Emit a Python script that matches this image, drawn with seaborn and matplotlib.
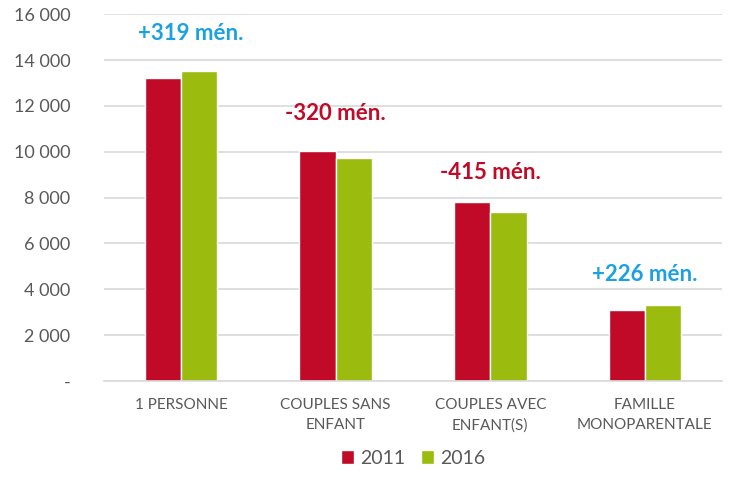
import pandas as pd
import seaborn as sns
import matplotlib.pyplot as plt

# Menages par type - 2011 vs 2016
categories = ['1 PERSONNE', 'COUPLES SANS\nENFANT', 'COUPLES AVEC\nENFANT(S)', 'FAMILLE\nMONOPARENTALE']
values_2011 = [13200, 10050, 7800, 3080]
values_2016 = [13519, 9730, 7385, 3306]
diff_labels = ['+319 mén.', '-320 mén.', '-415 mén.', '+226 mén.']
label_y = [15150, 11650, 9100, 4650]
years = ['2011', '2016']

df = pd.DataFrame({
    'type': categories * 2,
    'year': [years[0]] * 4 + [years[1]] * 4,
    'value': values_2011 + values_2016,
})

sns.set_style('white')
plt.rcParams['font.family'] = ['Lato', 'DejaVu Sans']

fig = plt.figure(figsize=(7.31, 4.91), dpi=100)
ax = fig.add_axes([0.142, 0.224, 0.846, 0.747])

sns.barplot(data=df, x='type', y='value', hue='year', palette=['#C00A27', '#9BBB0E'],
            saturation=1, width=0.47, ax=ax, legend=True)

ax.set_ylim(0, 16000)
ax.set_xlim(-0.5, 3.5)
ax.set_yticks(range(0, 16001, 2000))
ax.set_yticklabels(['-'] + [f'{v:,}'.replace(',', ' ') for v in range(2000, 16001, 2000)])
ax.grid(axis='y', color='#d9d9d9', linewidth=1.2)
ax.set_axisbelow(True)
for s in ['top', 'right', 'left']:
    ax.spines[s].set_visible(False)
ax.spines['bottom'].set_color('#d9d9d9')
ax.spines['bottom'].set_linewidth(1.2)
ax.tick_params(axis='y', labelsize=13, colors='#595959', length=0, pad=24)
ax.tick_params(axis='x', labelsize=11, colors='#595959', length=0, pad=12)
for lbl in ax.get_xticklabels():
    lbl.set_linespacing(1.6)
ax.set_xlabel('')
ax.set_ylabel('')

for i, (txt, y) in enumerate(zip(diff_labels, label_y)):
    col = '#1BA1E2' if txt.startswith('+') else '#C00A27'
    ax.text(i + (0.06 if i == 0 else 0), y, txt, ha='center', va='center',
            fontsize=16, fontweight='bold', color=col)

ax.legend(loc='upper center', bbox_to_anchor=(0.5, -0.14), ncol=2, frameon=False,
          fontsize=14, handlelength=0.7, handleheight=0.7, handletextpad=0.3,
          columnspacing=0.8, labelcolor='#595959')

plt.savefig('out.png', dpi=100)
